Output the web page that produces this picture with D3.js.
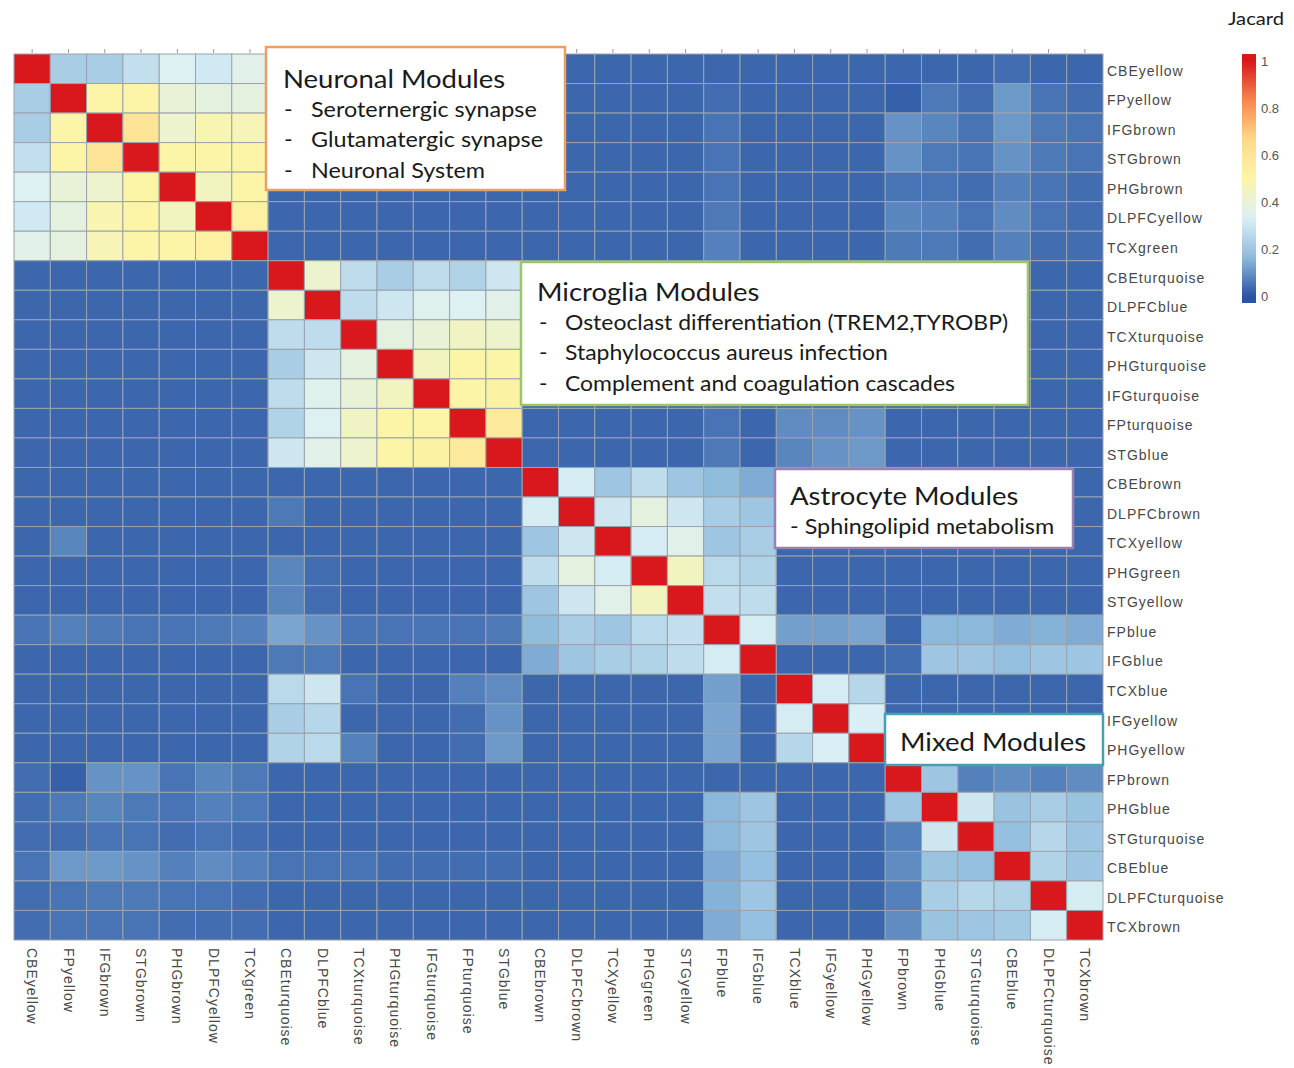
<!DOCTYPE html>
<html>
<head>
<meta charset="utf-8">
<script src="https://cdn.jsdelivr.net/npm/d3@7"></script>
<style>
  body { margin: 0; background: #fff; }
  svg { display: block; }
</style>
</head>
<body>
<script>
// Co-expression modules, in clustered order (rows top→bottom, columns left→right)
const modules = [
  "CBEyellow", "FPyellow", "IFGbrown", "STGbrown", "PHGbrown", "DLPFCyellow", "TCXgreen",
  "CBEturquoise", "DLPFCblue", "TCXturquoise", "PHGturquoise", "IFGturquoise", "FPturquoise", "STGblue",
  "CBEbrown", "DLPFCbrown", "TCXyellow", "PHGgreen", "STGyellow", "FPblue", "IFGblue",
  "TCXblue", "IFGyellow", "PHGyellow",
  "FPbrown", "PHGblue", "STGturquoise", "CBEblue", "DLPFCturquoise", "TCXbrown"
];

// Jaccard overlap between module gene sets, one row per module
const jaccard = [
  [1,.22,.22,.28,.34,.31,.36, .03,.03,.03,.03,.03,.03,.03, .03,.03,.03,.03,.03,.03,.03, .03,.03,.03, .03,.03,.03,.04,.03,.03],
  [.22,1,.5,.5,.4,.38,.38, .03,.03,.03,.03,.03,.03,.03, .03,.03,.03,.03,.03,.04,.03, .03,.03,.03, .02,.06,.04,.11,.05,.04],
  [.22,.5,1,.6,.42,.48,.47, .03,.03,.03,.03,.03,.03,.03, .03,.03,.03,.03,.03,.05,.03, .03,.03,.03, .1,.08,.05,.11,.06,.05],
  [.28,.5,.6,1,.5,.5,.5, .03,.03,.03,.03,.03,.03,.03, .03,.03,.03,.03,.03,.05,.03, .03,.03,.03, .1,.06,.05,.1,.06,.05],
  [.34,.4,.42,.5,1,.45,.5, .03,.03,.03,.03,.03,.03,.03, .03,.03,.03,.03,.03,.05,.03, .03,.03,.03, .05,.05,.04,.07,.05,.04],
  [.31,.38,.48,.5,.45,1,.53, .03,.03,.03,.03,.03,.03,.03, .03,.03,.03,.03,.03,.06,.03, .03,.03,.03, .08,.07,.05,.09,.05,.04],
  [.36,.38,.47,.5,.5,.53,1, .03,.03,.03,.03,.03,.03,.03, .03,.03,.03,.03,.03,.07,.03, .03,.03,.03, .06,.06,.04,.07,.04,.04],
  [.03,.03,.03,.03,.03,.03,.03, 1,.42,.27,.22,.27,.24,.3, .03,.06,.03,.08,.08,.13,.06, .26,.22,.24, .03,.03,.03,.05,.03,.03],
  [.03,.03,.03,.03,.03,.03,.03, .42,1,.27,.3,.35,.34,.36, .03,.03,.03,.04,.04,.1,.06, .3,.25,.26, .03,.03,.03,.05,.03,.03],
  [.03,.03,.03,.03,.03,.03,.03, .27,.27,1,.38,.4,.44,.42, .03,.03,.03,.03,.03,.05,.03, .05,.04,.08, .03,.03,.03,.03,.03,.03],
  [.03,.03,.03,.03,.03,.03,.03, .22,.3,.38,1,.45,.5,.5, .03,.03,.03,.03,.03,.05,.03, .03,.03,.04, .03,.03,.03,.03,.03,.03],
  [.03,.03,.03,.03,.03,.03,.03, .27,.35,.4,.45,1,.5,.52, .03,.03,.03,.03,.03,.05,.03, .03,.03,.04, .03,.03,.03,.03,.03,.03],
  [.03,.03,.03,.03,.03,.03,.03, .24,.34,.44,.5,.5,1,.57, .03,.03,.03,.03,.03,.05,.03, .09,.09,.1, .03,.03,.03,.03,.03,.03],
  [.03,.03,.03,.03,.03,.03,.03, .3,.36,.42,.5,.52,.57,1, .03,.03,.03,.03,.03,.06,.03, .08,.1,.11, .03,.03,.03,.03,.03,.03],
  [.03,.03,.03,.03,.03,.03,.03, .03,.03,.03,.03,.03,.03,.03, 1,.32,.2,.27,.2,.17,.14, .03,.03,.03, .03,.03,.03,.03,.03,.03],
  [.03,.03,.03,.03,.03,.03,.03, .06,.03,.03,.03,.03,.03,.03, .32,1,.3,.38,.3,.22,.2, .03,.03,.03, .03,.03,.03,.03,.03,.03],
  [.03,.08,.03,.03,.03,.03,.03, .03,.03,.03,.03,.03,.03,.03, .2,.3,1,.32,.36,.2,.22, .03,.03,.03, .03,.03,.03,.03,.03,.03],
  [.03,.03,.03,.03,.03,.03,.03, .08,.04,.03,.03,.03,.03,.03, .27,.38,.32,1,.45,.26,.24, .03,.03,.03, .03,.03,.03,.03,.03,.03],
  [.03,.03,.03,.03,.03,.03,.03, .08,.04,.03,.03,.03,.03,.03, .2,.3,.36,.45,1,.28,.27, .03,.03,.03, .03,.03,.03,.03,.03,.03],
  [.05,.07,.06,.05,.05,.06,.07, .13,.1,.05,.05,.05,.05,.06, .17,.22,.2,.26,.28,1,.32, .12,.12,.13, .03,.16,.16,.14,.15,.14],
  [.03,.03,.03,.03,.03,.03,.03, .06,.06,.03,.03,.03,.03,.03, .14,.2,.22,.24,.27,.32,1, .03,.03,.03, .04,.2,.2,.18,.2,.2],
  [.03,.03,.03,.03,.03,.03,.03, .26,.3,.05,.03,.03,.07,.09, .03,.03,.03,.03,.03,.12,.03, 1,.32,.25, .03,.03,.03,.03,.03,.03],
  [.03,.03,.03,.03,.03,.03,.03, .22,.25,.03,.03,.03,.04,.1, .03,.03,.03,.03,.03,.13,.03, .32,1,.33, .03,.03,.03,.03,.03,.03],
  [.03,.03,.03,.03,.03,.03,.03, .24,.26,.07,.03,.03,.04,.11, .03,.03,.03,.03,.03,.13,.03, .25,.33,1, .03,.03,.03,.03,.03,.03],
  [.04,.02,.1,.1,.05,.08,.06, .03,.03,.03,.03,.03,.03,.03, .03,.03,.03,.03,.03,.03,.03, .03,.03,.03, 1,.2,.07,.09,.07,.09],
  [.04,.06,.08,.06,.05,.07,.06, .03,.03,.03,.03,.03,.03,.03, .03,.03,.03,.03,.03,.16,.2, .03,.03,.03, .2,1,.3,.19,.22,.19],
  [.04,.04,.05,.05,.04,.05,.04, .03,.03,.03,.03,.03,.03,.03, .03,.03,.03,.03,.03,.16,.2, .03,.03,.03, .07,.3,1,.18,.25,.2],
  [.05,.11,.11,.1,.07,.09,.07, .05,.05,.05,.04,.04,.04,.04, .03,.03,.03,.03,.03,.14,.18, .03,.03,.03, .09,.19,.18,1,.24,.2],
  [.04,.05,.06,.06,.05,.05,.04, .03,.03,.03,.03,.03,.03,.03, .03,.03,.03,.03,.03,.15,.2, .03,.03,.03, .07,.22,.25,.24,1,.32],
  [.04,.05,.05,.05,.04,.04,.04, .03,.03,.03,.03,.03,.03,.03, .03,.03,.03,.03,.03,.14,.18, .03,.03,.03, .09,.19,.2,.21,.32,1]
];

// Colour-bar labels
const legendTicks = [0, 0.2, 0.4, 0.6, 0.8, 1];

// Annotation texts
const neuronalItems = ["Seroternergic synapse", "Glutamatergic synapse", "Neuronal System"];
const microgliaItems = ["Osteoclast differentiation (TREM2,TYROBP)", "Staphylococcus aureus infection", "Complement and coagulation cascades"];
const astrocyteItems = ["- Sphingolipid metabolism"];

// Diverging palette (blue → pale → yellow → red)
const colorDomain = [0, 1/6, 2/6, 3/6, 4/6, 5/6, 1];
const colorRange = ["#2a54a2", "#8fbcdd", "#dcf0f5", "#fcf5a8", "#fdd98a", "#f7864e", "#d8181c"];
const color = d3.scaleLinear().domain(colorDomain).range(colorRange).clamp(true);

const W = 1294, H = 1068;
const svg = d3.select("body").append("svg").attr("width", W).attr("height", H);

const x = d3.scaleBand().domain(modules).range([14, 1103]);
const y = d3.scaleBand().domain(modules).range([54, 940]);

// Heatmap cells
const cells = [];
jaccard.forEach((row, i) => row.forEach((v, j) => cells.push({ r: modules[i], c: modules[j], v })));
svg.append("g").selectAll("rect").data(cells).join("rect")
  .attr("x", d => x(d.c)).attr("y", d => y(d.r))
  .attr("width", x.bandwidth()).attr("height", y.bandwidth())
  .attr("fill", d => color(d.v))
  .attr("stroke", "#9aa3ad").attr("stroke-width", 1);

// Small ticks along the top edge
const topAxis = svg.append("g").attr("transform", "translate(0,53)")
  .call(d3.axisTop(x).tickSize(4).tickFormat(""));
topAxis.select(".domain").remove();
topAxis.selectAll("line").attr("stroke", "#999");

const labelFont = "'Liberation Sans', Arial, sans-serif";

// Row labels (right)
const rightAxis = svg.append("g").attr("transform", "translate(1103,0)")
  .call(d3.axisRight(y).tickSize(0).tickPadding(4));
rightAxis.select(".domain").remove();
rightAxis.selectAll("text")
  .attr("dy", "0.5em")
  .attr("font-family", labelFont).attr("font-size", 14)
  .attr("letter-spacing", 1.0).attr("fill", "#484848");

// Column labels (bottom, rotated)
const bottomAxis = svg.append("g").attr("transform", "translate(0,940)")
  .call(d3.axisBottom(x).tickSize(0));
bottomAxis.select(".domain").remove();
bottomAxis.selectAll("text")
  .attr("transform", "rotate(90)")
  .attr("x", 8).attr("y", 0).attr("dy", "0.35em")
  .attr("text-anchor", "start")
  .attr("font-family", labelFont).attr("font-size", 14)
  .attr("letter-spacing", 1.0).attr("fill", "#484848");

// Colour bar legend
const ly = d3.scaleLinear().domain([0, 1]).range([296, 61]);
const barTop = 54, barBottom = 303, barX = 1242, barW = 14;
const grad = svg.append("defs").append("linearGradient")
  .attr("id", "jac-grad").attr("x1", 0).attr("x2", 0).attr("y1", 0).attr("y2", 1);
d3.range(0, 41).forEach(k => {
  const yy = barTop + (barBottom - barTop) * k / 40;
  grad.append("stop").attr("offset", k / 40).attr("stop-color", color(ly.invert(yy)));
});
svg.append("rect").attr("x", barX).attr("y", barTop).attr("width", barW)
  .attr("height", barBottom - barTop).attr("fill", "url(#jac-grad)");
const legAxis = svg.append("g").attr("transform", `translate(${barX + barW},0)`)
  .call(d3.axisRight(ly).tickValues(legendTicks).tickSize(0).tickPadding(5).tickFormat(d => String(d)));
legAxis.select(".domain").remove();
legAxis.selectAll("text").attr("font-family", labelFont).attr("font-size", 13).attr("fill", "#555");

// Annotation boxes
const boxFont = "Lato, 'Open Sans', sans-serif";
function label(tx, ty, size, sx, str) {
  svg.append("text").attr("transform", `translate(${tx},${ty}) scale(${sx},1)`)
    .attr("font-family", boxFont).attr("font-size", size).attr("fill", "#1a1a1a")
    .attr("dominant-baseline", "central").text(str);
}
function box(bx, by, bw, bh, stroke) {
  svg.append("rect").attr("x", bx).attr("y", by).attr("width", bw).attr("height", bh)
    .attr("fill", "#fff").attr("stroke", stroke).attr("stroke-width", 2.5);
}

label(1228, 18, 18, 1.12, "Jacard");

box(266, 47, 299, 143, "#e8a064");
label(283, 78, 25, 1.1, "Neuronal Modules");
neuronalItems.forEach((t, i) => { label(284, 109 + i * 30.5, 20.5, 1.14, "-"); label(311, 109 + i * 30.5, 20.5, 1.14, t); });

box(521, 262, 507, 143, "#9cc46a");
label(537, 291, 25, 1.1, "Microglia Modules");
microgliaItems.forEach((t, i) => { label(539, 322 + i * 30.5, 20.5, 1.12, "-"); label(565, 322 + i * 30.5, 20.5, 1.12, t); });

box(775, 469, 298, 79, "#9a7fb4");
label(790, 495, 25, 1.1, "Astrocyte Modules");
astrocyteItems.forEach((t, i) => label(790, 526 + i * 30.5, 20.5, 1.14, t));

box(885, 714, 218, 51, "#45a0b2");
label(900, 741, 25, 1.1, "Mixed Modules");
</script>
</body>
</html>
